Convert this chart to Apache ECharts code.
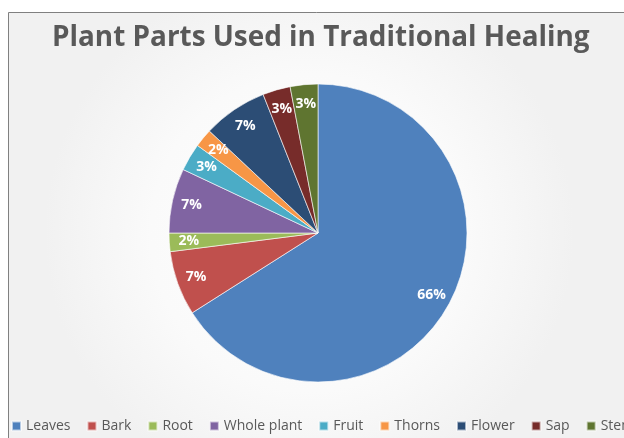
<!DOCTYPE html>
<html>
<head>
<meta charset="utf-8">
<script src="https://cdn.jsdelivr.net/npm/echarts@6/dist/echarts.min.js"></script>
<style>
html,body{margin:0;padding:0;background:#fff;}
#chart{width:624px;height:438px;}
</style>
</head>
<body>
<div id="chart"></div>
<script>
var titleText = 'Plant Parts Used in Traditional Healing';
var categories = ['Leaves', 'Bark', 'Root', 'Whole plant', 'Fruit', 'Thorns', 'Flower', 'Sap', 'Stem'];
var values = [66, 7, 2, 7, 3, 2, 7, 3, 3];
var colors = ['#4F81BD', '#C0504D', '#9BBB59', '#8064A2', '#4BACC6', '#F79646', '#2C4D75', '#772C2A', '#5F7530'];

var chart = echarts.init(document.getElementById('chart'), null, {renderer: 'canvas'});
var pieData = categories.map(function (c, i) {
  return {name: c, value: values[i], itemStyle: {color: colors[i]}};
});
var labelData = categories.map(function (c, i) {
  return {name: c, value: values[i]};
});
chart.setOption({
  animation: false,
  backgroundColor: '#ffffff',
  graphic: [{
    type: 'rect',
    silent: true,
    z: -10,
    shape: {x: 8.5, y: 12.5, width: 640, height: 440},
    style: {
      fill: {
        type: 'radial', x: 0.47, y: 0.5, r: 0.6,
        colorStops: [{offset: 0, color: '#ffffff'}, {offset: 0.6, color: '#fafafa'}, {offset: 1, color: '#f1f1f1'}]
      },
      stroke: '#808080', lineWidth: 1
    }
  }],
  title: {
    text: titleText,
    left: 47,
    top: 19,
    textStyle: {fontFamily: 'Open Sans', fontWeight: 'bold', fontSize: 27.9, color: '#595959'}
  },
  legend: {
    data: categories,
    left: 6,
    top: 414,
    width: 900,
    orient: 'horizontal',
    icon: 'rect',
    itemWidth: 9,
    itemHeight: 9,
    itemGap: 16,
    textStyle: {fontFamily: 'Open Sans', fontSize: 14, color: '#595959'}
  },
  series: [{
    type: 'pie',
    center: [318, 233],
    radius: [0, 149],
    startAngle: 90,
    clockwise: true,
    data: pieData,
    label: {show: false},
    labelLine: {show: false},
    itemStyle: {borderColor: 'rgba(255,255,255,0.6)', borderWidth: 1}
  }, {
    type: 'pie',
    center: [318, 233],
    radius: [104, 149],
    startAngle: 90,
    clockwise: true,
    silent: true,
    legendHoverLink: false,
    data: labelData,
    itemStyle: {color: 'rgba(0,0,0,0)'},
    label: {
      show: true,
      position: 'inside',
      formatter: function (p) { return p.value + '%'; },
      fontFamily: 'Open Sans', fontWeight: 'bold', fontSize: 14, color: '#ffffff'
    },
    labelLine: {show: false}
  }]
});
</script>
</body>
</html>
